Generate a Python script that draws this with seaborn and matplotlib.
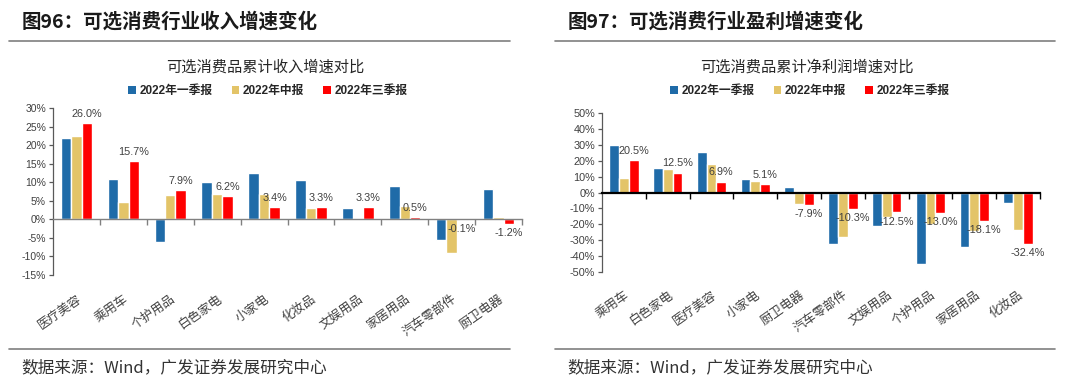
import numpy as np
import pandas as pd
import matplotlib
matplotlib.use("Agg")
import matplotlib.pyplot as plt
import matplotlib.transforms as mtransforms
from matplotlib.patches import Patch
from matplotlib.lines import Line2D
import seaborn as sns

# ---------------- data ----------------
series = ["2022年一季报", "2022年中报", "2022年三季报"]
colors = ["#1F6BA8", "#E3C468", "#FF0000"]

rev_cats = ["医疗美容", "乘用车", "个护用品", "白色家电", "小家电",
            "化妆品", "文娱用品", "家居用品", "汽车零部件", "厨卫电器"]
rev_q1 = [21.8, 11.0, -6.0, 10.1, 12.5, 10.5, 3.1, 8.9, -5.6, 8.3]
rev_h1 = [22.5, 4.7, 6.5, 6.9, 6.7, 3.1, 0.2, 3.6, -9.1, 0.7]
rev_q3 = [26.0, 15.7, 7.9, 6.2, 3.4, 3.3, 3.3, 0.5, -0.1, -1.2]

np_cats = ["乘用车", "白色家电", "医疗美容", "小家电", "厨卫电器",
           "汽车零部件", "文娱用品", "个护用品", "家居用品", "化妆品"]
np_q1 = [30.0, 15.3, 25.2, 8.4, 3.6, -32.5, -21.0, -45.1, -34.0, -6.3]
np_h1 = [9.0, 14.7, 17.8, 7.3, -7.3, -28.3, -15.5, -19.5, -24.5, -23.5]
np_q3 = [20.5, 12.5, 6.9, 5.1, -7.9, -10.3, -12.5, -13.0, -18.1, -32.4]

rev_ticks = [30, 25, 20, 15, 10, 5, 0, -5, -10, -15]
np_ticks = [50, 40, 30, 20, 10, 0, -10, -20, -30, -40, -50]

sns.set_style("white")
plt.rcParams["font.family"] = ["Noto Sans CJK SC", "DejaVu Sans"]

W, H = 1080, 389
fig = plt.figure(figsize=(W / 100, H / 100), dpi=100)


def px_axes(x0, y_top, x1, y_bot):
    return fig.add_axes([x0 / W, (H - y_bot) / H, (x1 - x0) / W, (y_bot - y_top) / H])


def long_df(cats, a, b, c):
    rows = []
    for s, vals in zip(series, [a, b, c]):
        for cat, v in zip(cats, vals):
            rows.append({"cat": cat, "series": s, "val": v})
    return pd.DataFrame(rows)


def panel(ax, cats, a, b, c, ticks, ylim, axis_color, axis_lw, tick_fs, lab_fs,
          label_y_px):
    df = long_df(cats, a, b, c)
    sns.barplot(data=df, x="cat", y="val", hue="series", order=cats,
                hue_order=series, palette=colors, width=0.67, ax=ax,
                legend=False, saturation=1)
    n = len(cats)
    ax.set_xlim(-0.5, n - 0.5)
    ax.set_ylim(*ylim)
    ax.set_xlabel("")
    ax.set_ylabel("")
    for s in ["top", "right"]:
        ax.spines[s].set_visible(False)
    ax.spines["bottom"].set_position(("data", 0))
    ax.spines["bottom"].set_color(axis_color)
    ax.spines["bottom"].set_linewidth(axis_lw)
    ax.spines["left"].set_color("#595959")
    ax.spines["left"].set_linewidth(0.9)
    ax.set_xticks(np.arange(0.5, n, 1.0))
    ax.set_xticklabels([])
    ax.tick_params(axis="x", direction="out", length=4, width=1,
                   color=axis_color, bottom=True)
    ax.set_yticks(ticks)
    ax.set_yticklabels([f"{t}%" for t in ticks], fontsize=tick_fs,
                       family="Liberation Sans", color="#404040")
    ax.tick_params(axis="y", direction="out", length=3, width=0.9,
                   color="#595959", left=True, pad=2)
    ax.grid(False)
    # data labels for third series
    ax.bar_label(ax.containers[2], labels=[f"{v:.1f}%" for v in c], padding=3,
                 fontsize=lab_fs, family="Liberation Sans", color="#404040")
    # category labels at bottom
    trans = mtransforms.blended_transform_factory(ax.transData, fig.transFigure)
    for i, cat in enumerate(cats):
        ax.text(i, (H - label_y_px) / H, cat, transform=trans, rotation=35,
                rotation_mode="anchor", ha="right", va="top", fontsize=9,
                color="#404040", clip_on=False)


# ---------- left panel ----------
axL = px_axes(53, 108, 522, 275)
panel(axL, rev_cats, rev_q1, rev_h1, rev_q3, rev_ticks, (-15, 30),
      "#808080", 1.0, 7.5, 7.8, 292)

# ---------- right panel ----------
axR = px_axes(602, 113, 1040, 272)
panel(axR, np_cats, np_q1, np_h1, np_q3, np_ticks, (-50, 50),
      "#000000", 1.6, 7.8, 7.8, 288)

# ---------- headers / footers ----------
def hline(x0, x1, y):
    fig.add_artist(Line2D([x0 / W, x1 / W], [(H - y) / H, (H - y) / H],
                          transform=fig.transFigure, color="#7f7f7f", lw=1.2))

for x0, x1, tx, head, title, cx in [
        (9, 510, 22, "图96：可选消费行业收入增速变化", "可选消费品累计收入增速对比", 265),
        (555, 1055, 568, "图97：可选消费行业盈利增速变化", "可选消费品累计净利润增速对比", 807)]:
    fig.text(tx / W, (H - 22) / H, head, fontsize=14, fontweight="bold",
             color="#1a1a1a", ha="left", va="center")
    hline(x0, x1, 41)
    fig.text(cx / W, (H - 67) / H, title, fontsize=11, color="#262626",
             ha="center", va="center")
    handles = [Patch(facecolor=col, edgecolor="none") for col in colors]
    fig.legend(handles, series, loc="center", bbox_to_anchor=((cx + 3) / W, (H - 91) / H),
               ncol=3, frameon=False, handlelength=0.65, handleheight=0.65,
               handletextpad=0.3, columnspacing=1.6,
               prop={"size": 8.5, "weight": "bold",
                     "family": ["Liberation Sans", "Noto Sans CJK SC"]},
               labelcolor="#262626")
    hline(x0, x1, 349)
    fig.text((tx - 1) / W, (H - 368) / H, "数据来源：Wind，广发证券发展研究中心",
             fontsize=12, color="#333333", ha="left", va="center")

fig.savefig("out.png", dpi=100)
